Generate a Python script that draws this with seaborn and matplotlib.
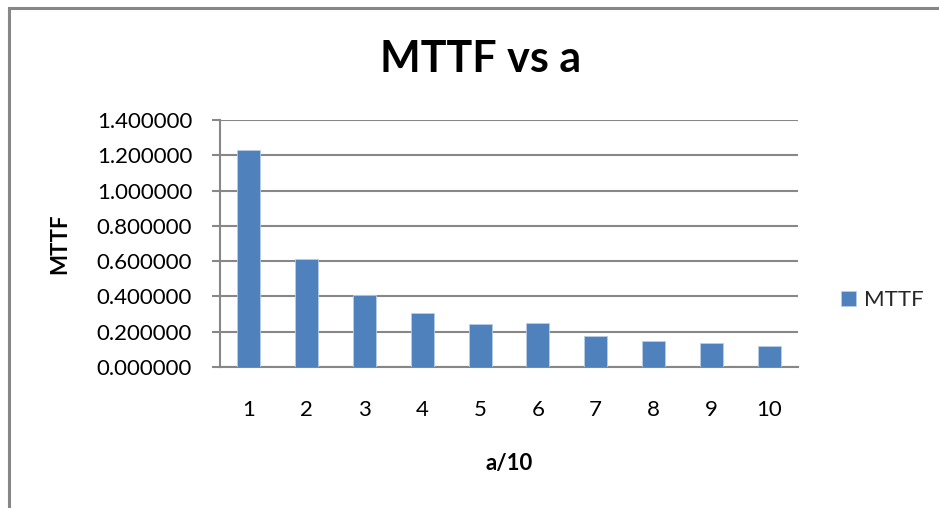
import matplotlib
matplotlib.use("Agg")
import matplotlib.pyplot as plt
from matplotlib.patches import Rectangle
from matplotlib.ticker import FormatStrFormatter
import seaborn as sns
import pandas as pd

# MTTF for each a/10 step
categories = ["1", "2", "3", "4", "5", "6", "7", "8", "9", "10"]
mttf = [1.230, 0.612, 0.408, 0.306, 0.244, 0.249, 0.173, 0.149, 0.134, 0.119]
y_ticks = [0.0, 0.2, 0.4, 0.6, 0.8, 1.0, 1.2, 1.4]

df = pd.DataFrame({"a/10": categories, "MTTF": mttf})

sns.set_theme(style="white")
plt.rcParams["font.family"] = ["Lato", "DejaVu Sans"]

W, H = 939, 508
fig = plt.figure(figsize=(W / 100, H / 100), dpi=100)
ax = fig.add_axes([220 / W, 1 - 367 / H, (798 - 220) / W, (367 - 120) / H])

grey = "#878787"
bar_color = "#4F81BD"

sns.barplot(data=df, x="a/10", y="MTTF", color=bar_color, width=0.4,
            label="MTTF", edgecolor="#b9cde5", linewidth=0.6, ax=ax,
            saturation=1, zorder=3)

ax.set_ylim(0, 1.4)
ax.set_yticks(y_ticks)
ax.yaxis.set_major_formatter(FormatStrFormatter("%.6f"))
ax.set_xlim(-0.5, len(categories) - 0.5)

ax.grid(axis="y", color=grey, linewidth=1.5, zorder=0)
ax.set_axisbelow(True)
for side in ("top", "right"):
    ax.spines[side].set_visible(False)
for side in ("left", "bottom"):
    ax.spines[side].set_color(grey)
    ax.spines[side].set_linewidth(1.5)

ax.tick_params(axis="y", length=6, width=1.5, color=grey, pad=14,
               labelsize=16, labelcolor="black", left=True)
ax.tick_params(axis="x", length=0, pad=24, labelsize=16, labelcolor="black")

ax.set_xlabel("a/10", fontsize=16, fontweight="bold", color="black")
ax.xaxis.set_label_coords(0.5, (367 - 463) / 247)
ax.xaxis.label.set_va("center")
ax.set_ylabel("MTTF", fontsize=16, fontweight="bold", color="black")
ax.yaxis.set_label_coords((60 - 220) / 578, 0.5)
ax.yaxis.label.set_va("center")

fig.text(481 / W, 1 - 72 / H, "MTTF vs a", fontsize=31, fontweight="bold",
         ha="center", va="baseline", color="black")

leg = ax.legend(loc="center left", bbox_to_anchor=(841 / W, 1 - 300 / H),
                bbox_transform=fig.transFigure, frameon=False, fontsize=16,
                handlelength=0.68, handleheight=0.68, handletextpad=0.35,
                borderpad=0, borderaxespad=0)

# chart area outline
fig.patches.append(Rectangle((8.5 / W, -0.2), 1.5, 1.2 - 8 / H + 0.0,
                             transform=fig.transFigure, fill=False,
                             edgecolor=grey, linewidth=2.2))

fig.savefig("out.png", dpi=100)
